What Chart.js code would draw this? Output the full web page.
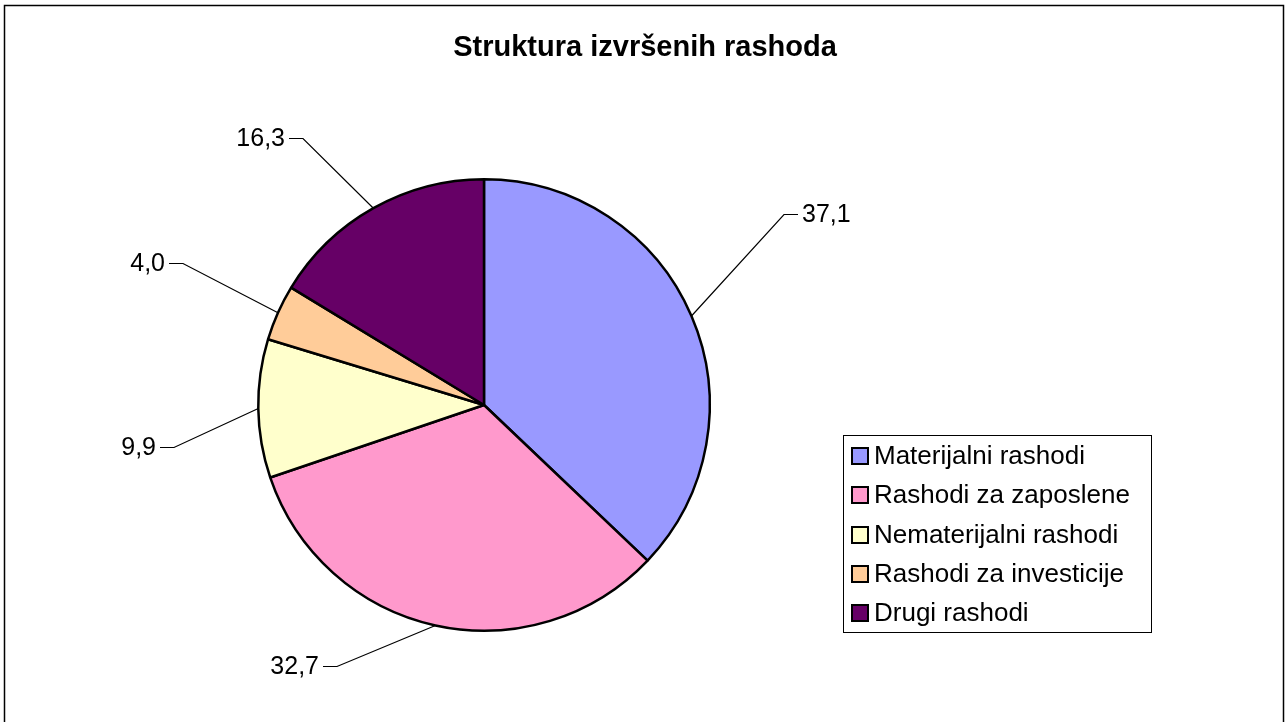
<!DOCTYPE html>
<html>
<head>
<meta charset="utf-8">
<title>Struktura izvršenih rashoda</title>
<script src="https://cdn.jsdelivr.net/npm/chart.js@4.4.0/dist/chart.umd.min.js"></script>
<style>
  html, body { margin: 0; padding: 0; background: #fff; }
  #wrap { width: 1285px; height: 722px; }
</style>
</head>
<body>
<div id="wrap"><canvas id="pieChart" width="1285" height="722"></canvas></div>
<script>
// Chart data
const chartTitle = 'Struktura izvršenih rashoda';
const categories = [
  'Materijalni rashodi',
  'Rashodi za zaposlene',
  'Nematerijalni rashodi',
  'Rashodi za investicije',
  'Drugi rashodi'
];
const shares = [37.1, 32.7, 9.9, 4.0, 16.3];
const sliceColors = ['#9999FF', '#FF99CC', '#FFFFCC', '#FFCC99', '#660066'];

// Where each leader line bends, relative to the pie centre (layout only)
const labelElbows = [[300, -191], [-147, 261], [-310, 42], [-301, -142], [-181, -267]];

const FONT = '"Liberation Sans", Arial, sans-serif';

function formatShare(v) {
  return v.toFixed(1).replace('.', ',');
}

const decorations = {
  id: 'decorations',
  afterDatasetsDraw(chart) {
    const ctx = chart.ctx;
    const arcs = chart.getDatasetMeta(0).data;
    ctx.save();
    ctx.strokeStyle = '#000';
    ctx.lineWidth = 1.2;
    ctx.fillStyle = '#000';
    ctx.font = '25px ' + FONT;
    ctx.textBaseline = 'middle';
    arcs.forEach((arc, i) => {
      const p = arc.getProps(['x', 'y', 'startAngle', 'endAngle', 'outerRadius'], true);
      const mid = (p.startAngle + p.endAngle) / 2;
      const ax = p.x + Math.cos(mid) * p.outerRadius;
      const ay = p.y + Math.sin(mid) * p.outerRadius;
      const ex = p.x + labelElbows[i][0];
      const ey = Math.round(p.y + labelElbows[i][1]) + 0.5;
      const dir = labelElbows[i][0] > 0 ? 1 : -1;
      const hx = ex + dir * 14;
      ctx.beginPath();
      ctx.moveTo(ax, ay);
      ctx.lineTo(ex, ey);
      ctx.lineTo(hx, ey);
      ctx.stroke();
      ctx.textAlign = dir > 0 ? 'left' : 'right';
      ctx.fillText(formatShare(shares[i]), hx + dir * 4, ey + 1);
    });
    ctx.restore();
  },
  afterDraw(chart) {
    const ctx = chart.ctx;
    ctx.save();

    // title
    ctx.fillStyle = '#000';
    ctx.font = 'bold 29px ' + FONT;
    ctx.textAlign = 'center';
    ctx.textBaseline = 'alphabetic';
    ctx.fillText(chartTitle, 645, 56);

    // legend box
    ctx.strokeStyle = '#000';
    ctx.lineWidth = 1;
    ctx.strokeRect(843.5, 435.5, 308, 197);
    ctx.font = '26px ' + FONT;
    ctx.textAlign = 'left';
    ctx.textBaseline = 'middle';
    categories.forEach((name, i) => {
      const cy = 456 + i * 39.3;
      ctx.fillStyle = sliceColors[i];
      ctx.fillRect(852, Math.round(cy - 8), 16, 16);
      ctx.lineWidth = 2;
      ctx.strokeStyle = '#000';
      ctx.strokeRect(852, Math.round(cy - 8), 16, 16);
      ctx.fillStyle = '#000';
      ctx.fillText(name, 874, cy + 1);
    });

    // outer frame
    ctx.lineWidth = 1.5;
    ctx.strokeStyle = '#000';
    ctx.strokeRect(4.5, 5.5, 1279, 720);
    ctx.restore();
  }
};

const ctx = document.getElementById('pieChart').getContext('2d');
const pieChart = new Chart(ctx, {
  type: 'pie',
  data: {
    labels: categories,
    datasets: [{
      data: shares,
      backgroundColor: sliceColors,
      borderColor: '#000',
      borderWidth: 2.5
    }]
  },
  options: {
    responsive: false,
    animation: false,
    layout: {
      padding: { left: 257, right: 574, top: 178, bottom: 90 }
    },
    plugins: {
      legend: { display: false },
      title: { display: false },
      tooltip: { enabled: false }
    }
  },
  plugins: [decorations]
});
</script>
</body>
</html>
